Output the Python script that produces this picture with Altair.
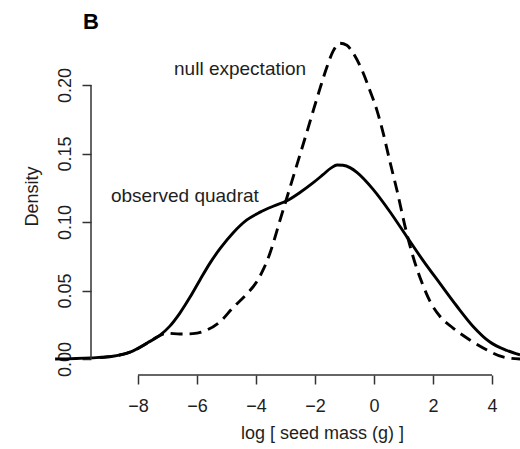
import altair as alt
import pandas as pd

# ---- data ----
obs_x = [-10.81, -9.59, -8.85, -8.27, -7.69, -7.25, -6.92, -6.58, -6.24, -5.90, -5.56,
         -5.22, -4.78, -4.31, -3.86, -3.42, -2.95, -2.51, -2.07, -1.73, -1.45, -1.25,
         -1.05, -0.80, -0.58, -0.03, 0.54, 1.12, 1.66, 2.24, 2.81, 3.36, 3.93, 4.51, 4.95]
obs_y = [0.0, 0.0008, 0.002, 0.005, 0.0117, 0.0175, 0.0240, 0.0335, 0.045, 0.0577, 0.070,
         0.0805, 0.0920, 0.1015, 0.1072, 0.1115, 0.1155, 0.1215, 0.1285, 0.1345, 0.1395,
         0.1416, 0.1414, 0.1395, 0.1362, 0.1238, 0.1075, 0.089, 0.0720, 0.0550, 0.0385,
         0.0238, 0.0124, 0.0062, 0.003]

null_x = [-9.29, -8.27, -7.69, -7.36, -7.02, -6.58, -6.14, -5.66, -5.22, -4.78, -4.31,
          -3.97, -3.76, -3.53, -3.36, -3.19, -3.02, -2.78, -2.51, -2.27, -2.07, -1.83,
          -1.59, -1.39, -1.15, -0.92, -0.71, -0.41, -0.14, 0.10, 0.31, 0.54, 0.78, 1.05,
          1.32, 1.63, 1.90, 2.24, 2.68, 3.25, 3.83, 4.37, 4.95]
null_y = [0.001, 0.005, 0.0115, 0.016, 0.0188, 0.0182, 0.0185, 0.0212, 0.0272, 0.0375, 0.0475,
          0.0565, 0.0650, 0.0770, 0.0885, 0.1010, 0.1130, 0.1300, 0.1490, 0.1660, 0.1805,
          0.1975, 0.2135, 0.2245, 0.2305, 0.2290, 0.2234, 0.2110, 0.1960, 0.1815, 0.1650,
          0.1440, 0.1230, 0.0970, 0.0750, 0.0555, 0.0420, 0.0310, 0.0226, 0.0139, 0.0066,
          0.0015, 0.0]

x_ticks = [-8, -6, -4, -2, 0, 2, 4]
y_ticks = [0.0, 0.05, 0.10, 0.15, 0.20]

ann_text = ["null expectation", "observed quadrat"]
ann_x = [-4.54, -6.41]
ann_y = [0.2073, 0.1146]

panel_letter = "B"
x_title = "log [ seed mass (g) ]"
y_title = "Density"

# ---- tables ----
obs_df = pd.DataFrame({"x": obs_x, "y": obs_y})
null_df = pd.DataFrame({"x": null_x, "y": null_y})
ann_df = pd.DataFrame({"x": ann_x, "y": ann_y, "label": ann_text})

FONT = "Liberation Sans"
TXT = "#1e1e1e"
AX = "#333333"

X_DOM = [-9.593, 4.949]
Y_DOM = [-0.011679, 0.24015]

x_axis = alt.Axis(
    values=x_ticks, format="d", domain=False, grid=False,
    tickSize=9, tickWidth=1.5, tickColor=AX,
    labelFont=FONT, labelFontSize=18, labelColor=TXT, labelPadding=27,
    labelBaseline="alphabetic", labelAlign="center", labelFlush=False,
    title=x_title, titleFont=FONT, titleFontSize=18, titleFontWeight="normal",
    titleColor=TXT, titleX=231, titleY=63, titleBaseline="alphabetic", titleAlign="center",
)
y_axis = alt.Axis(
    values=y_ticks, format=".2f", domain=False, grid=False,
    tickSize=9, tickWidth=1.5, tickColor=AX,
    labelFont=FONT, labelFontSize=18, labelColor=TXT, labelPadding=12,
    labelAngle=270, labelBaseline="alphabetic", labelAlign="center", labelFlush=False,
    title=y_title, titleFont=FONT, titleFontSize=18, titleFontWeight="normal",
    titleColor=TXT, titleAngle=270, titleX=-54, titleY=166,
    titleBaseline="alphabetic", titleAlign="center",
)

X = alt.X("x:Q", scale=alt.Scale(domain=X_DOM, nice=False, zero=False), axis=x_axis)
Y = alt.Y("y:Q", scale=alt.Scale(domain=Y_DOM, nice=False, zero=False), axis=y_axis)

null_line = alt.Chart(null_df).mark_line(
    color="black", strokeWidth=2.9, strokeDash=[12, 7], interpolate="monotone"
).encode(x=X, y=Y)

obs_line = alt.Chart(obs_df).mark_line(
    color="black", strokeWidth=2.9, interpolate="monotone"
).encode(x=X, y=Y)

ann = alt.Chart(ann_df).mark_text(
    font=FONT, fontSize=19, color=TXT, align="center", baseline="alphabetic"
).encode(x=X, y=Y, text="label:N")

x_domain_line = alt.Chart(pd.DataFrame({"x": [x_ticks[0]], "x2": [x_ticks[-1]]})).mark_rule(
    color=AX, strokeWidth=1.5
).encode(x=alt.X("x:Q"), x2="x2:Q", y=alt.value(345))

y_domain_line = alt.Chart(pd.DataFrame({"y": [y_ticks[0]], "y2": [y_ticks[-1]]})).mark_rule(
    color=AX, strokeWidth=1.5
).encode(y=alt.Y("y:Q"), y2="y2:Q", x=alt.value(0))

letter = alt.Chart(pd.DataFrame({"label": [panel_letter]})).mark_text(
    font=FONT, fontSize=22, fontWeight="bold", color="black", align="center", baseline="alphabetic"
).encode(text="label:N", x=alt.value(0), y=alt.value(-1))

chart = alt.layer(
    null_line, obs_line, ann, x_domain_line, y_domain_line, letter
).properties(
    width=429, height=345,
    autosize=alt.AutoSizeParams(type="none"),
    padding={"left": 91, "top": 30, "right": 0, "bottom": 74},
    background="white",
).configure_view(stroke=None)

chart.save("out.html", embed_options={"renderer": "svg", "actions": False})
